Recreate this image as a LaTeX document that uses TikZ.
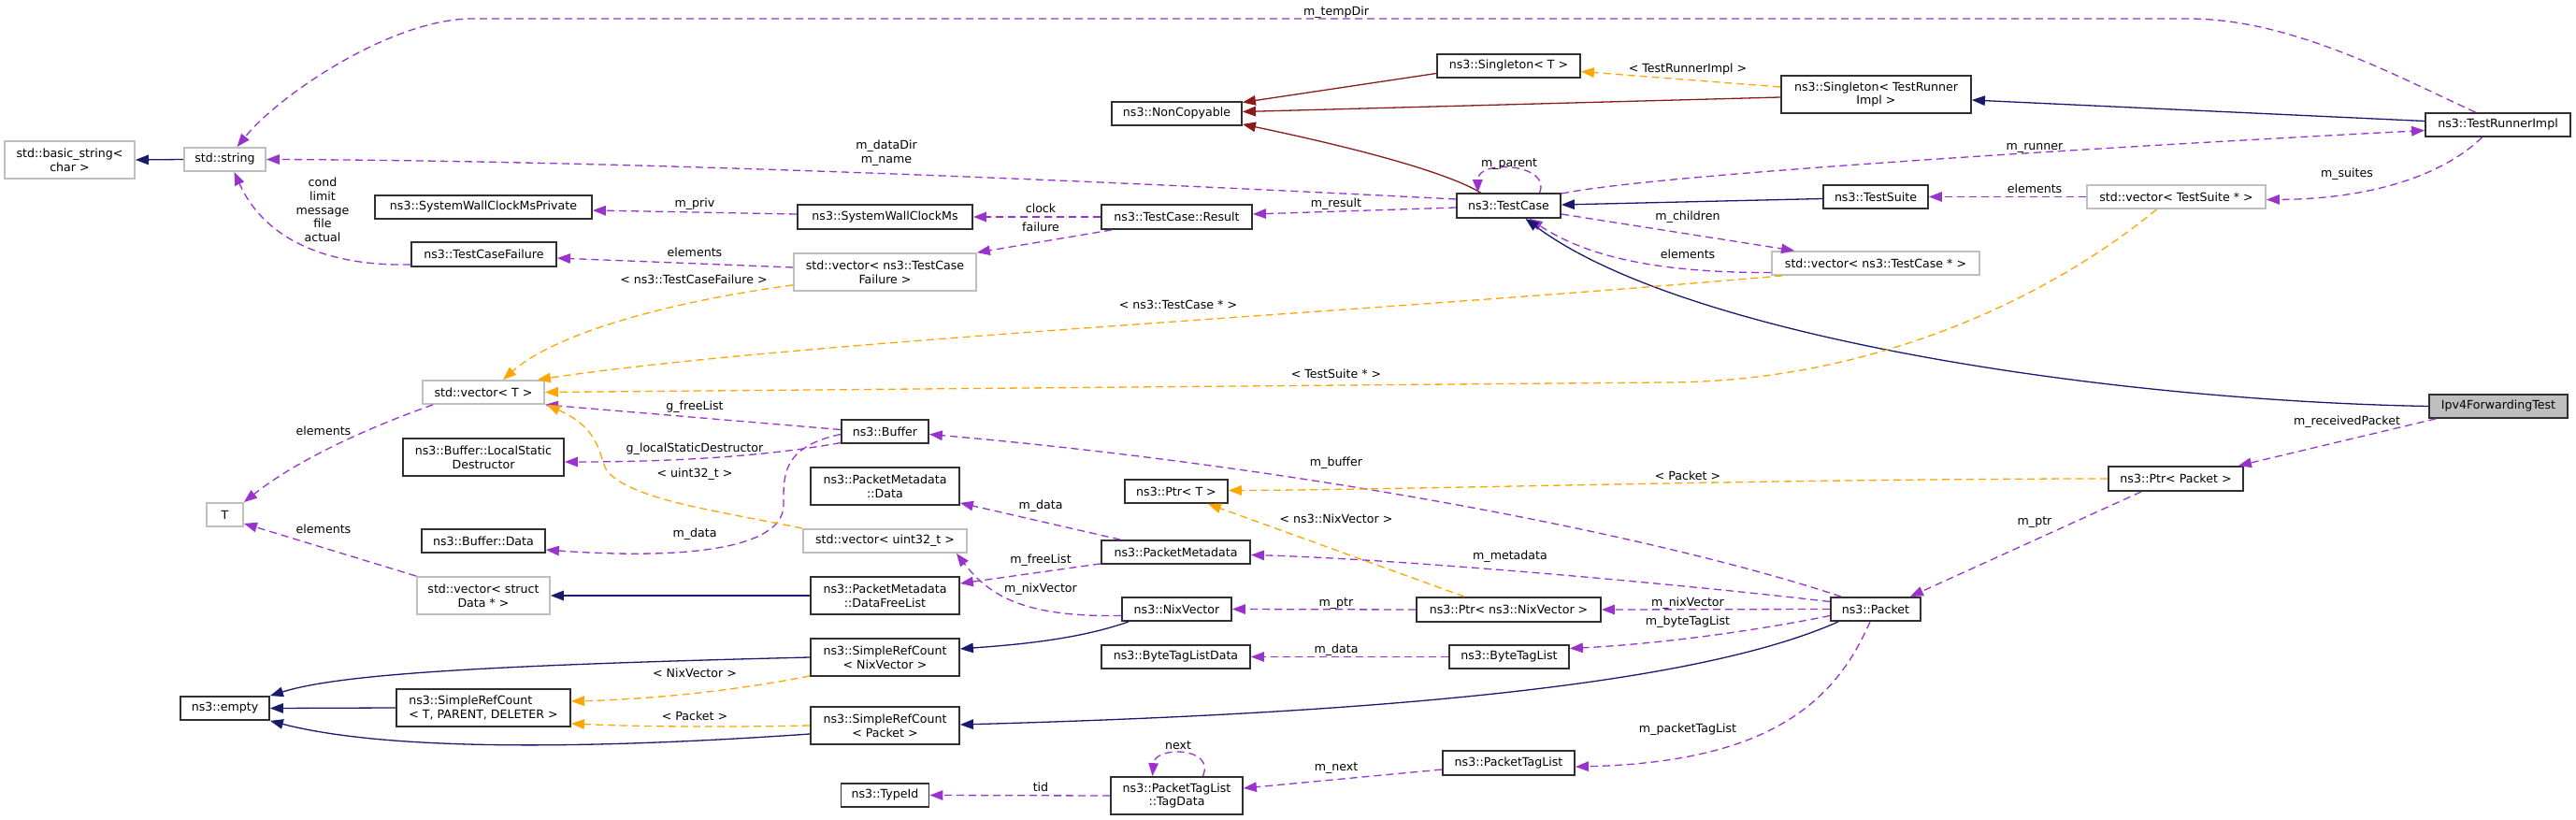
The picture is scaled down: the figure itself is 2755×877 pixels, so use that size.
\documentclass[tikz,border=0pt]{standalone}
\usepackage{fontspec}
\setmainfont{DejaVu Sans}
\usetikzlibrary{arrows.meta,calc}
\definecolor{usecol}{HTML}{9A32CD}
\definecolor{tmplcol}{HTML}{FFA500}
\definecolor{inhcol}{HTML}{191970}
\definecolor{privcol}{HTML}{8B1A1A}
\definecolor{boxgray}{HTML}{BFBFBF}
\definecolor{fillgray}{HTML}{BFBFBF}
\definecolor{boxline}{HTML}{303030}
\begin{document}
\begin{tikzpicture}[x=1pt,y=-1pt,
  every node/.style={font=\fontsize{12.6}{14.7}\selectfont},
  box/.style={draw=boxline,line width=1.8pt,fill=white,inner sep=0pt,align=center},
  gbox/.style={box,draw=boxgray},
  lbl/.style={anchor=base,inner sep=0pt},
  lblc/.style={inner sep=0pt,align=center},
  conn/.style={line width=1.3pt,-{Triangle[length=14pt,width=10.5pt]}},
  use/.style={conn,draw=usecol,dash pattern=on 8pt off 5pt},
  tmpl/.style={conn,draw=tmplcol,dash pattern=on 8pt off 5pt},
  inh/.style={conn,draw=inhcol},
  priv/.style={conn,draw=privcol},
]
\fill[white] (0,0) rectangle (2755,877);
\useasboundingbox (0,0) rectangle (2755,877);

% nodes
\node[gbox,minimum width=139pt,minimum height=40pt] (bstr) at (74.5,171) {std::basic\_string<\\char >};
\node[gbox,minimum width=87pt,minimum height=25pt] (str) at (240.5,170.5) {std::string};
\node[box,minimum width=232pt,minimum height=25pt] (swcmp) at (517,221.5) {ns3::SystemWallClockMsPrivate};
\node[box,minimum width=155pt,minimum height=26pt] (tcf) at (517.5,272) {ns3::TestCaseFailure};
\node[gbox,minimum width=130pt,minimum height=25pt] (vecT) at (517,419.5) {std::vector< T >};
\node[gbox,minimum width=39pt,minimum height=25pt] (T) at (240.5,550.5) {T};
\node[box,minimum width=172pt,minimum height=40pt] (lsd) at (517,489) {ns3::Buffer::LocalStatic\\Destructor};
\node[box,minimum width=132pt,minimum height=25pt] (bdata) at (517,578.5) {ns3::Buffer::Data};
\node[gbox,minimum width=142pt,minimum height=40pt] (vsd) at (517,637) {std::vector< struct\\Data * >};
\node[box,minimum width=95pt,minimum height=25pt] (empty) at (240.5,757.5) {ns3::empty};
\node[box,align=left,minimum width=186pt,minimum height=40pt] (srcTPD) at (517,757) {ns3::SimpleRefCount\\< T, PARENT, DELETER >};
\node[box,minimum width=139pt,minimum height=25pt] (nonc) at (1258.5,121.5) {ns3::NonCopyable};
\node[box,minimum width=187pt,minimum height=26pt] (swcm) at (946.5,232) {ns3::SystemWallClockMs};
\node[box,minimum width=161pt,minimum height=26pt] (result) at (1258.5,232) {ns3::TestCase::Result};
\node[gbox,minimum width=195pt,minimum height=40pt] (vtcf) at (946.5,291) {std::vector< ns3::TestCase\\Failure >};
\node[box,minimum width=93pt,minimum height=25pt] (buffer) at (946.5,461.5) {ns3::Buffer};
\node[box,minimum width=159pt,minimum height=40pt] (pmdata) at (946.5,520) {ns3::PacketMetadata\\::Data};
\node[gbox,minimum width=175pt,minimum height=25pt] (vu32) at (946.5,578.5) {std::vector< uint32\_t >};
\node[box,minimum width=159pt,minimum height=40pt] (dfl) at (946.5,637) {ns3::PacketMetadata\\::DataFreeList};
\node[box,minimum width=159pt,minimum height=40pt] (srcNV) at (946.5,703) {ns3::SimpleRefCount\\< NixVector >};
\node[box,minimum width=159pt,minimum height=40pt] (srcP) at (946.5,776) {ns3::SimpleRefCount\\< Packet >};
\node[box,minimum width=94pt,minimum height=25pt] (typeid) at (946.5,850.5) {ns3::TypeId};
\node[box,minimum width=110pt,minimum height=25pt] (ptrT) at (1258,525.5) {ns3::Ptr< T >};
\node[box,minimum width=159pt,minimum height=25pt] (pm) at (1257.5,590.5) {ns3::PacketMetadata};
\node[box,minimum width=117pt,minimum height=25pt] (nix) at (1258.5,651.5) {ns3::NixVector};
\node[box,minimum width=159pt,minimum height=25pt] (btld) at (1257.5,702.5) {ns3::ByteTagListData};
\node[box,minimum width=141pt,minimum height=40pt] (tagdata) at (1258.5,851) {ns3::PacketTagList\\::TagData};
\node[box,minimum width=153pt,minimum height=25pt] (singT) at (1613.5,70.5) {ns3::Singleton< T >};
\node[box,minimum width=203pt,minimum height=40pt] (singTRI) at (2006.5,101) {ns3::Singleton< TestRunner\\Impl >};
\node[box,minimum width=111pt,minimum height=26pt] (testcase) at (1613.5,220) {ns3::TestCase};
\node[box,minimum width=112pt,minimum height=25pt] (testsuite) at (2006,210.5) {ns3::TestSuite};
\node[gbox,minimum width=222pt,minimum height=25pt] (vtc) at (2006,281.5) {std::vector< ns3::TestCase * >};
\node[box,minimum width=155pt,minimum height=25pt] (tri) at (2671.5,133.5) {ns3::TestRunnerImpl};
\node[gbox,minimum width=191pt,minimum height=25pt] (vts) at (2327.5,210.5) {std::vector< TestSuite * >};
\node[box,fill=fillgray,minimum width=148pt,minimum height=25pt] (ipv4) at (2672,434.5) {Ipv4ForwardingTest};
\node[box,minimum width=96pt,minimum height=25pt] (packet) at (2006,651.5) {ns3::Packet};
\node[box,minimum width=197pt,minimum height=26pt] (ptrnv) at (1613.5,652) {ns3::Ptr< ns3::NixVector >};
\node[box,minimum width=128pt,minimum height=25pt] (btl) at (1614,702.5) {ns3::ByteTagList};
\node[box,minimum width=141pt,minimum height=26pt] (ptl) at (1613.5,816) {ns3::PacketTagList};
\node[box,minimum width=144pt,minimum height=26pt] (ptrP) at (2327,512) {ns3::Ptr< Packet >};

% connectors
\draw[inh] (str.west) -- (bstr.east);
\draw[use] ($(tri.north)+(-24,0)$) .. controls (2560,80) and (2450,20) .. (2340,20) -- (505,20) .. controls (420,20) and (300,100) .. ($(str.north)+(13,0)$);
\draw[use] ($(testcase.west)+(0,-7)$) .. controls (1200,195) and (700,172) .. (str.east);
\draw[use] ($(tcf.west)+(0,11)$) .. controls (340,285) and (280,250) .. ($(str.south)+(10,0)$);
\draw[use] ($(swcm.west)+(0,-3)$) -- ($(swcmp.east)+(0,3.5)$);
\draw[use] ($(vtcf.west)+(0,-5)$) -- ($(tcf.east)+(0,4)$);
\draw[use] (result.west) -- (swcm.east);
\draw[use] ($(result.south west)+(12,0)$) -- (vtcf.north east);
\draw[use] ($(testcase.west)+(0,2)$) -- ($(result.east)+(0,-3)$);
\draw[priv] ($(singT.west)+(0,8)$) -- ($(nonc.east)+(0,-12)$);
\draw[priv] ($(singTRI.west)+(0,3)$) -- ($(nonc.east)+(0,-2)$);
\draw[priv] ($(testcase.north)+(-30,0)$) .. controls (1540,180) and (1420,152) .. ($(nonc.south east)+(0,-2)$);
\draw[tmpl] ($(singTRI.west)+(0,-8)$) -- ($(singT.east)+(0,6)$);
\draw[inh] ($(tri.west)+(0,-4)$) -- ($(singTRI.east)+(0,6)$);
\draw[use] ($(testcase.north east)+(0,1)$) .. controls (1760,188) and (2200,160) .. ($(tri.west)+(0,6)$);
\draw[inh] ($(testsuite.west)+(0,2)$) -- ($(testcase.east)+(0,-1)$);
\draw[use] (vts.west) -- (testsuite.east);
\draw[use] ($(tri.south)+(-17,0)$) .. controls (2610,190) and (2530,213) .. ($(vts.east)+(0,3)$);
\draw[use] ($(testcase.east)+(0,9)$) -- ($(vtc.north west)+(25,0)$);
\draw[use] ($(vtc.west)+(0,10)$) .. controls (1760,292) and (1690,270) .. ($(testcase.south)+(22,0)$);
\draw[inh] (ipv4.west) .. controls (2250,428) and (1800,360) .. ($(testcase.south)+(18,0)$);
\draw[use] ($(ipv4.south west)+(8,0)$) -- ($(ptrP.north east)+(-6,0)$);
\draw[tmpl] ($(vtc.south west)+(12,0)$) .. controls (1450,335) and (850,365) .. ($(vecT.north east)+(-8,0)$);
\draw[tmpl] ($(vts.south)+(-21,0)$) .. controls (2190,320) and (2000,409) .. (1780,409) -- (vecT.east);
\draw[tmpl] ($(vtcf.south west)+(0,-7)$) .. controls (700,325) and (590,360) .. ($(vecT.north)+(21,0)$);
\draw[use] ($(buffer.west)+(0,-2)$) -- (vecT.south east);
\draw[use] ($(buffer.west)+(0,12)$) .. controls (820,488) and (720,494) .. ($(lsd.east)+(0,5)$);
\draw[use] ($(buffer.west)+(0,3)$) .. controls (835,478) and (838,510) .. (838,540) .. controls (838,590) and (720,598) .. ($(bdata.east)+(0,9.5)$);
\draw[tmpl] (vu32.north west) .. controls (760,545) and (680,535) .. (650,505) .. controls (640,490) and (645,460) .. ($(vecT.south east)+(2,0)$);
\draw[use] ($(vecT.south west)+(12,0)$) .. controls (400,455) and (320,490) .. (T.north east);
\draw[use] (vsd.north west) -- ($(T.south east)+(0,-4)$);
\draw[inh] (dfl.west) -- (vsd.east);
\draw[use] ($(pm.north west)+(21,0)$) -- ($(pmdata.south east)+(0,-3)$);
\draw[use] ($(pm.south west)+(0,-1)$) -- ($(dfl.east)+(0,-13)$);
\draw[use] ($(nix.west)+(0,7)$) .. controls (1100,660) and (1060,640) .. ($(vu32.south east)+(-12,0)$);
\draw[inh] ($(nix.south west)+(8,0)$) .. controls (1150,685) and (1080,690) .. ($(srcNV.east)+(0,-9)$);
\draw[tmpl] ($(srcNV.south west)+(0,-1)$) .. controls (780,740) and (690,748) .. ($(srcTPD.east)+(0,-7)$);
\draw[inh] (srcNV.west) .. controls (500,712) and (360,722) .. (empty.north east);
\draw[inh] (srcTPD.west) -- (empty.east);
\draw[tmpl] (srcP.west) .. controls (760,778) and (680,777) .. ($(srcTPD.south east)+(0,-4)$);
\draw[inh] ($(srcP.west)+(0,9)$) .. controls (650,800) and (420,805) .. (empty.south east);
\draw[use] ($(packet.north west)+(12,0)$) .. controls (1780,575) and (1400,500) .. ($(buffer.east)+(0,3)$);
\draw[tmpl] (ptrP.west) .. controls (1900,512) and (1500,524) .. ($(ptrT.east)+(0,-1)$);
\draw[use] ($(ptrP.south west)+(36,0)$) -- ($(packet.north east)+(-12,0)$);
\draw[tmpl] ($(ptrnv.north west)+(52,0)$) -- ($(ptrT.south east)+(-22,0)$);
\draw[use] ($(packet.west)+(0,-8)$) .. controls (1800,625) and (1500,598) .. ($(pm.east)+(0,3)$);
\draw[use] (ptrnv.west) -- (nix.east);
\draw[use] (packet.west) -- (ptrnv.east);
\draw[use] ($(packet.west)+(0,7)$) .. controls (1850,680) and (1750,690) .. ($(btl.east)+(0,-9)$);
\draw[use] (btl.west) -- (btld.east);
\draw[inh] ($(packet.south west)+(9,0)$) .. controls (1820,730) and (1500,762) .. ($(srcP.east)+(0,-1)$);
\draw[use] ($(packet.south)+(-6,0)$) .. controls (1965,745) and (1900,815) .. ($(ptl.east)+(0,4)$);
\draw[use] ($(ptl.west)+(0,7)$) -- ($(tagdata.east)+(0,-8)$);
\draw[use] ($(tagdata.north)+(28,0)$) .. controls (1300,798) and (1235,798) .. ($(tagdata.north)+(-26,0)$);
\draw[use] (tagdata.west) -- (typeid.east);
\draw[use] ($(testcase.north)+(33,0)$) .. controls (1660,175) and (1580,170) .. ($(testcase.north)+(-33,0)$);

% labels
\node[lbl] (l1) at (1429,16.5) {m\_tempDir};
\node[lblc] (l2) at (948,163.5) {m\_dataDir\\m\_name};
\node[lblc] (l3) at (345,224.5) {cond\\limit\\message\\file\\actual};
\node[lbl] (l4) at (743,221.5) {m\_priv};
\node[lbl] (l5) at (743,274.5) {elements};
\node[lbl] (l6) at (1113,227.5) {clock};
\node[lbl] (l7) at (1113,247.5) {failure};
\node[lbl] (l8) at (742,303.5) {< ns3::TestCaseFailure >};
\node[lbl] (l9) at (1260,330.5) {< ns3::TestCase * >};
\node[lbl] (l10) at (1429,404.5) {< TestSuite * >};
\node[lbl] (l11) at (743,438.5) {g\_freeList};
\node[lbl] (l12) at (743,483.5) {g\_localStaticDestructor};
\node[lbl] (l13) at (743,510.5) {< uint32\_t >};
\node[lbl] (l14) at (743,574.5) {m\_data};
\node[lbl] (l15) at (346,465.5) {elements};
\node[lbl] (l16) at (346,570.5) {elements};
\node[lbl] (l17) at (1113,544.5) {m\_data};
\node[lbl] (l18) at (1113,602.5) {m\_freeList};
\node[lbl] (l19) at (1113,633.5) {m\_nixVector};
\node[lbl] (l20) at (743,724.5) {< NixVector >};
\node[lbl] (l21) at (743,770.5) {< Packet >};
\node[lbl] (l22) at (1260,801) {next};
\node[lbl] (l23) at (1113,846.5) {tid};
\node[lbl] (l24) at (1429,221.5) {m\_result};
\node[lbl] (l25) at (1614,178.5) {m\_parent};
\node[lbl] (l26) at (1805,235.5) {m\_children};
\node[lbl] (l27) at (1805,276.5) {elements};
\node[lbl] (l28) at (1805,77.5) {< TestRunnerImpl >};
\node[lbl] (l29) at (2176,160.5) {m\_runner};
\node[lbl] (l30) at (2176,206.5) {elements};
\node[lbl] (l31) at (2510,189.5) {m\_suites};
\node[lbl] (l32) at (2510,454.5) {m\_receivedPacket};
\node[lbl] (l33) at (1429,498.5) {m\_buffer};
\node[lbl] (l34) at (1805,513.5) {< Packet >};
\node[lbl] (l35) at (1429,559.5) {< ns3::NixVector >};
\node[lbl] (l36) at (1615,598.5) {m\_metadata};
\node[lbl] (l37) at (1429,648.5) {m\_ptr};
\node[lbl] (l38) at (1805,648.5) {m\_nixVector};
\node[lbl] (l39) at (1805,668.5) {m\_byteTagList};
\node[lbl] (l40) at (1429,698.5) {m\_data};
\node[lbl] (l41) at (1805,783.5) {m\_packetTagList};
\node[lbl] (l42) at (1429,824.5) {m\_next};
\node[lbl] (l43) at (2176,561.5) {m\_ptr};
\end{tikzpicture}
\end{document}
